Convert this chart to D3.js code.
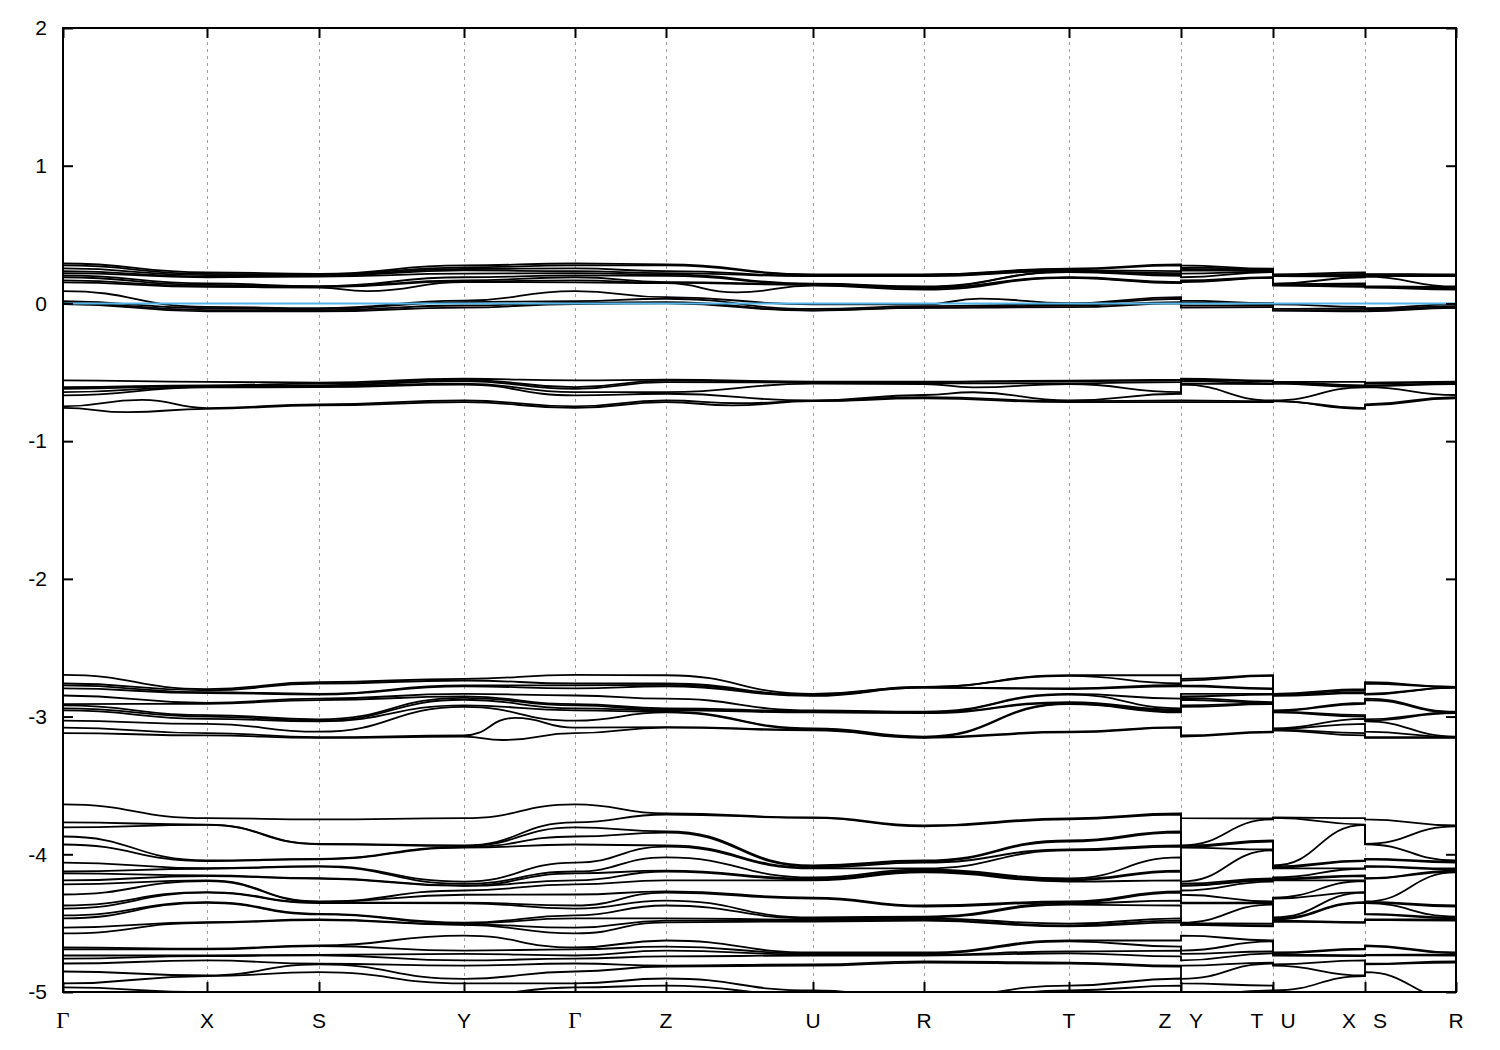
<!DOCTYPE html>
<html><head><meta charset="utf-8">
<script src="https://cdn.jsdelivr.net/npm/d3@7"></script>
<style>body{margin:0;background:#fff}svg{display:block}</style>
</head><body>
<svg id="chart" width="1500" height="1050"></svg>
<script>
// ---- DATA ----
// high-symmetry path (node names) and cumulative k distance along the path
const pathNodes = ["G","X","S","Y","G","Z","U","R","T","Z","Y","T","U","X","S","R"];
const nodeK = [0, 0.10337, 0.18378, 0.28787, 0.36755, 0.43288, 0.53841, 0.61809, 0.72218, 0.80258, 0.80258, 0.86863, 0.86863, 0.93467, 0.93467, 1.0];
const tickK = [0, 0.10337, 0.18378, 0.28787, 0.36755, 0.43288, 0.53841, 0.61809, 0.72218, 0.80258, 0.86863, 0.93467, 1.0];
const tickLabels = ["Γ","X","S","Y","Γ","Z","U","R","T","Z Y","T U","X S","R"];
const yTicks = [2, 1, 0, -1, -2, -3, -4, -5];

// band energies (eV, sorted high -> low) at each high-symmetry point
const energyG = [0.29,0.276,0.254,0.234,0.22,0.203,0.19,0.167,0.153,0.09,0.017,0.004,-0.004,
 -0.559,-0.608,-0.62,-0.644,-0.668,-0.748,-0.758,
 -2.697,-2.76,-2.774,-2.795,-2.847,-2.91,-2.919,-2.94,-2.955,-3.03,-3.08,-3.12,
 -3.638,-3.769,-3.805,-3.871,-3.929,-4.06,-4.125,-4.139,-4.19,-4.219,-4.292,-4.372,-4.394,-4.444,-4.466,-4.532,-4.575,
 -4.677,-4.691,-4.735,-4.757,-4.793,-4.851,-4.938,-4.967,-5.062,-5.134];
const energyX = [0.225,0.215,0.205,0.195,0.19,0.145,0.135,0.125,0.12,-0.025,-0.035,-0.048,-0.058,
 -0.57,-0.595,-0.6,-0.605,-0.61,-0.76,-0.765,
 -2.8,-2.81,-2.823,-2.83,-2.9,-2.907,-2.99,-3.0,-3.016,-3.053,-3.12,-3.137,
 -3.738,-3.784,-3.787,-4.045,-4.049,-4.101,-4.105,-4.154,-4.158,-4.19,-4.194,-4.275,-4.279,-4.348,-4.352,-4.493,-4.497,
 -4.686,-4.69,-4.735,-4.739,-4.771,-4.88,-4.884,-5.001,-5.005,-5.098];
const energyS = [0.215,0.21,0.205,0.2,0.195,0.125,0.122,0.118,0.115,-0.035,-0.042,-0.05,-0.058,
 -0.575,-0.583,-0.595,-0.6,-0.608,-0.733,-0.74,
 -2.75,-2.76,-2.835,-2.84,-2.87,-2.88,-3.02,-3.03,-3.035,-3.11,-3.15,-3.155,
 -3.747,-3.924,-3.927,-4.033,-4.036,-4.086,-4.09,-4.174,-4.177,-4.343,-4.346,-4.35,-4.354,-4.432,-4.436,-4.473,-4.477,
 -4.662,-4.666,-4.73,-4.733,-4.795,-4.799,-4.856,-5.001,-5.025,-5.098];
const energyY = [0.276,0.262,0.25,0.24,0.216,0.19,0.167,0.16,0.155,0.02,0.01,-0.015,-0.03,
 -0.547,-0.555,-0.564,-0.583,-0.59,-0.705,-0.717,
 -2.726,-2.738,-2.774,-2.78,-2.835,-2.854,-2.864,-2.878,-2.919,-2.93,-3.137,-3.145,
 -3.738,-3.936,-3.94,-3.948,-3.952,-4.198,-4.214,-4.227,-4.23,-4.263,-4.294,-4.352,-4.356,-4.497,-4.501,-4.51,-4.513,
 -4.59,-4.699,-4.723,-4.771,-4.808,-4.904,-4.938,-5.025,-5.098,-5.134];
const energyZ = [0.283,0.276,0.235,0.22,0.21,0.2,0.155,0.15,0.147,0.046,0.034,0.01,0.0,
 -0.554,-0.56,-0.571,-0.644,-0.656,-0.705,-0.717,
 -2.70,-2.76,-2.77,-2.78,-2.87,-2.94,-2.95,-2.955,-2.965,-2.97,-3.077,-3.08,
 -3.704,-3.711,-3.834,-3.842,-3.936,-3.944,-4.023,-4.118,-4.125,-4.19,-4.27,-4.278,-4.336,-4.372,-4.466,-4.481,-4.495,
 -4.626,-4.67,-4.699,-4.742,-4.808,-4.815,-4.902,-4.953,-5.025,-5.098];
const energyU = [0.21,0.208,0.2,0.198,0.143,0.14,0.138,0.135,0.13,-0.007,-0.04,-0.05,-0.052,
 -0.568,-0.57,-0.575,-0.583,-0.705,-0.708,-0.71,
 -2.835,-2.84,-2.845,-2.85,-2.955,-2.96,-2.965,-2.97,-3.085,-3.09,-3.095,-3.1,
 -3.733,-3.736,-4.081,-4.088,-4.096,-4.103,-4.168,-4.176,-4.183,-4.19,-4.314,-4.321,-4.459,-4.466,-4.474,-4.481,-4.488,
 -4.713,-4.72,-4.728,-4.735,-4.8,-4.808,-4.989,-5.025,-5.098,-5.134];
const energyR = [0.21,0.208,0.2,0.198,0.123,0.12,0.114,0.11,0.1,-0.007,-0.02,-0.03,-0.032,
 -0.568,-0.572,-0.58,-0.585,-0.665,-0.68,-0.69,
 -2.785,-2.785,-2.79,-2.79,-2.965,-2.97,-2.97,-2.975,-3.145,-3.15,-3.15,-3.155,
 -3.791,-3.798,-4.045,-4.052,-4.06,-4.103,-4.11,-4.118,-4.125,-4.132,-4.372,-4.379,-4.452,-4.459,-4.466,-4.474,-4.481,
 -4.713,-4.72,-4.728,-4.735,-4.778,-4.786,-5.047,-5.098,-5.134,-5.171];
const energyT = [0.252,0.248,0.24,0.235,0.23,0.228,0.19,0.187,0.185,0.002,-0.005,-0.015,-0.027,
 -0.56,-0.565,-0.58,-0.585,-0.705,-0.71,-0.717,
 -2.70,-2.705,-2.795,-2.80,-2.835,-2.84,-2.895,-2.9,-2.905,-2.91,-3.11,-3.115,
 -3.74,-3.747,-3.9,-3.907,-3.965,-3.972,-4.176,-4.183,-4.19,-4.198,-4.343,-4.35,-4.357,-4.365,-4.503,-4.517,-4.524,
 -4.626,-4.633,-4.706,-4.72,-4.786,-4.793,-4.953,-4.989,-5.062,-5.134];

// extrema between nodes: [band index, path segment index, fraction along segment, energy]
const bandExtrema = [
 [8, 2, 0.33, 0.09], [8, 5, 0.48, 0.08], [9, 7, 0.39, 0.035],
 [18, 0, 0.55, -0.70], [19, 0, 0.45, -0.79], [18, 5, 0.5, -0.725], [19, 5, 0.45, -0.74],
 [16, 7, 0.34, -0.61], [17, 7, 0.34, -0.645],
 [30, 3, 0.46, -3.01], [31, 3, 0.35, -3.17]
];
const fermiLevel = 0;

// ---- CHART ----
const energyAt = {G: energyG, X: energyX, S: energyS, Y: energyY, Z: energyZ, U: energyU, R: energyR, T: energyT};
const plot = {left: 63, right: 1456, top: 28, bottom: 992};
const svg = d3.select("#chart");
const x = d3.scaleLinear().domain([0, 1]).range([plot.left, plot.right]);
const y = d3.scaleLinear().domain([-5, 2]).range([plot.bottom, plot.top]);

svg.append("defs").append("clipPath").attr("id", "clip")
  .append("rect").attr("x", plot.left).attr("y", plot.top)
  .attr("width", plot.right - plot.left).attr("height", plot.bottom - plot.top);

// vertical dashed grid lines
svg.append("g").selectAll("line").data(tickK.slice(1, -1)).join("line")
  .attr("x1", d => Math.round(x(d)) + 0.5).attr("x2", d => Math.round(x(d)) + 0.5)
  .attr("y1", plot.top).attr("y2", plot.bottom)
  .attr("stroke", "#a0a0a0").attr("stroke-width", 1).attr("stroke-dasharray", "3,4");

// bands
const nBands = energyG.length;
const line = d3.line().x(d => x(d[0])).y(d => y(d[1])).curve(d3.curveBumpX);
const bandData = d3.range(nBands).map(b => {
  const pts = [];
  pathNodes.forEach((p, i) => {
    pts.push([nodeK[i], energyAt[p][b]]);
    bandExtrema.filter(e => e[0] === b && e[1] === i).forEach(e => {
      pts.push([nodeK[i] + e[2] * (nodeK[i + 1] - nodeK[i]), e[3]]);
    });
  });
  return pts;
});
svg.append("g").attr("clip-path", "url(#clip)")
  .selectAll("path").data(bandData).join("path")
  .attr("d", line).attr("fill", "none").attr("stroke", "#000").attr("stroke-width", 1.8);

// Fermi level
svg.append("line")
  .attr("x1", plot.left).attr("x2", plot.right)
  .attr("y1", y(fermiLevel)).attr("y2", y(fermiLevel))
  .attr("stroke", "#56b4e9").attr("stroke-width", 2);

// frame
svg.append("rect").attr("x", plot.left).attr("y", plot.top)
  .attr("width", plot.right - plot.left).attr("height", plot.bottom - plot.top)
  .attr("fill", "none").attr("stroke", "#000").attr("stroke-width", 2);

// y ticks (inward, mirrored)
const yAxisL = d3.axisLeft(y).tickValues(yTicks).tickSize(-10).tickPadding(16).tickFormat(d => String(d));
const gyl = svg.append("g").attr("transform", `translate(${plot.left},0)`).call(yAxisL);
gyl.select(".domain").remove();
gyl.selectAll("line").attr("stroke-width", 2);
gyl.selectAll("text").attr("font-family", "Liberation Sans, Arial, sans-serif").attr("font-size", 21).attr("fill", "#000");
const yAxisR = d3.axisRight(y).tickValues(yTicks).tickSize(-10).tickFormat("");
const gyr = svg.append("g").attr("transform", `translate(${plot.right},0)`).call(yAxisR);
gyr.select(".domain").remove();
gyr.selectAll("line").attr("stroke-width", 2);

// x ticks (inward, mirrored)
const xAxisB = d3.axisBottom(x).tickValues(tickK).tickSize(-10).tickFormat("");
const gxb = svg.append("g").attr("transform", `translate(0,${plot.bottom})`).call(xAxisB);
gxb.select(".domain").remove();
gxb.selectAll("line").attr("stroke-width", 2);
const xAxisT = d3.axisTop(x).tickValues(tickK).tickSize(-10).tickFormat("");
const gxt = svg.append("g").attr("transform", `translate(0,${plot.top})`).call(xAxisT);
gxt.select(".domain").remove();
gxt.selectAll("line").attr("stroke-width", 2);

// x labels
const labelItems = [];
tickLabels.forEach((lab, i) => {
  const parts = lab.split(" ");
  if (parts.length === 1) labelItems.push({t: lab, k: tickK[i], dx: 0});
  else { labelItems.push({t: parts[0], k: tickK[i], dx: -16}); labelItems.push({t: parts[1], k: tickK[i], dx: 15}); }
});
svg.append("g").selectAll("text").data(labelItems).join("text")
  .attr("x", d => x(d.k) + d.dx).attr("y", 1028)
  .attr("text-anchor", "middle")
  .attr("font-family", d => d.t === "Γ" ? "Liberation Serif, DejaVu Serif, serif" : "Liberation Sans, Arial, sans-serif")
  .attr("font-size", d => d.t === "Γ" ? 23 : 21)
  .text(d => d.t);
</script>
</body></html>
